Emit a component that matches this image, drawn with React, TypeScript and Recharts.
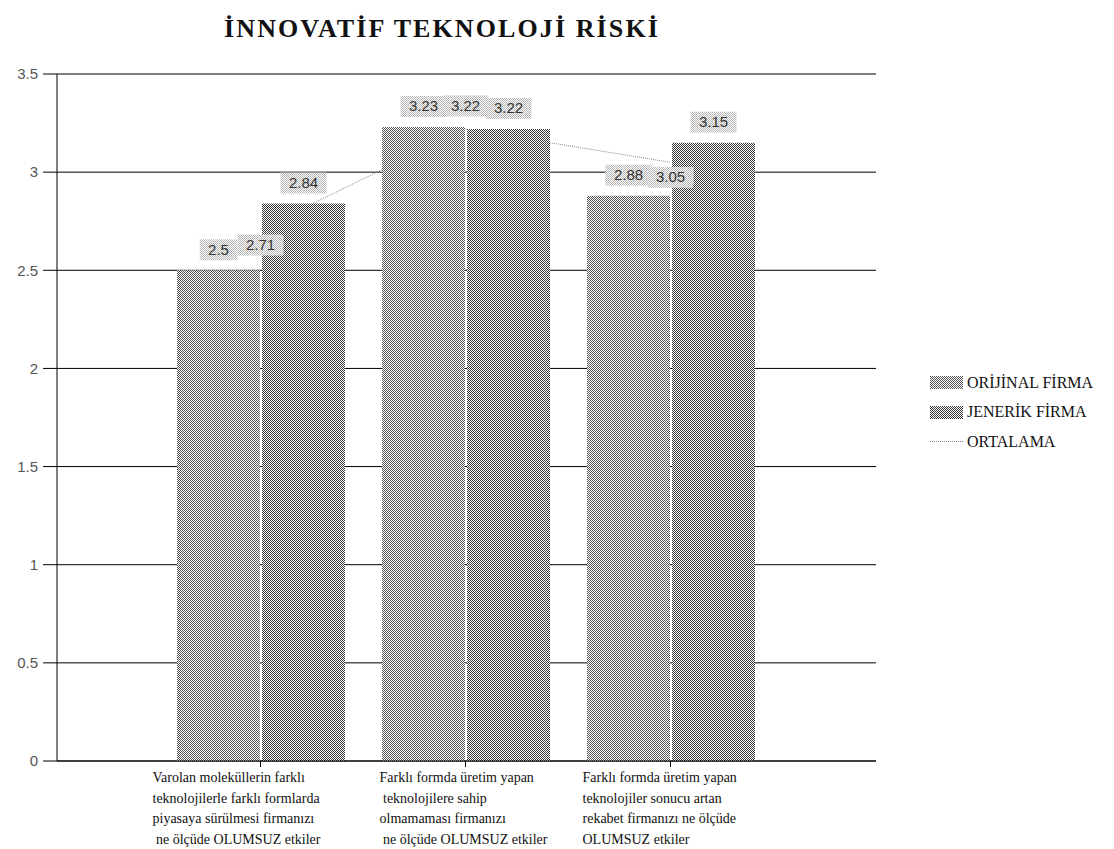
// @ts-nocheck
import React from "react";
import { ComposedChart, Bar, Line, XAxis, YAxis, CartesianGrid, LabelList, Legend } from "recharts";

const TITLE = "İNNOVATİF TEKNOLOJİ RİSKİ";

const CATEGORY_LINES = [
  ["Varolan moleküllerin farklı", "teknolojilerle farklı formlarda", "piyasaya sürülmesi firmanızı", " ne ölçüde OLUMSUZ etkiler"],
  ["Farklı formda üretim yapan", " teknolojilere sahip", "olmamaması firmanızı", " ne ölçüde OLUMSUZ etkiler"],
  ["Farklı formda üretim yapan", "teknolojiler sonucu artan", "rekabet firmanızı ne ölçüde", "OLUMSUZ etkiler"],
];
const ORIJINAL = [2.5, 3.23, 2.88];
const JENERIK = [2.84, 3.22, 3.15];
const ORTALAMA = [2.71, 3.22, 3.05];
const Y_TICKS = [0, 0.5, 1, 1.5, 2, 2.5, 3, 3.5];
const SERIES_NAMES = ["ORİJİNAL FİRMA", "JENERİK FİRMA", "ORTALAMA"];

const data = CATEGORY_LINES.map((lines, i) => ({
  name: lines.join(" ").trim(),
  orijinal: ORIJINAL[i],
  jenerik: JENERIK[i],
  ortalama: ORTALAMA[i],
}));

// style-only offsets
const TICK_DX = [-108, -86, -88];
const LINE_LABEL_DY = [16, -23, 15];

const serif = '"Liberation Serif", "Times New Roman", serif';
const sans = '"Liberation Sans", Arial, sans-serif';

const labelBox = (cx, cy, value) => {
  const txt = String(value);
  const w = txt.length * 8.5 + 12;
  return (
    <g>
      <rect x={cx - w / 2} y={cy - 10.5} width={w} height={21} fill="url(#labelDots)" />
      <text x={cx} y={cy + 5} textAnchor="middle" fontFamily={sans} fontSize={15} fill="#333">
        {txt}
      </text>
    </g>
  );
};

const BarValueLabel = (props) => {
  const { x, y, width, value } = props;
  return labelBox(x + width / 2, y - 20.5, value);
};

const LineValueLabel = (props) => {
  const { x, y, value, index } = props;
  return labelBox(x, y + LINE_LABEL_DY[index ?? 0], value);
};

const CategoryTick = (props) => {
  const { x, y, payload, index } = props;
  const i = payload?.index ?? index ?? 0;
  const lines = CATEGORY_LINES[i] || [];
  const tx = x + TICK_DX[i];
  return (
    <text x={tx} y={y + 13} fontFamily={serif} fontSize={14} fill="#111" style={{ whiteSpace: "pre" }}>
      {lines.map((l, k) => (
        <tspan key={k} x={tx} dy={k === 0 ? 0 : 20.5}>{l}</tspan>
      ))}
    </text>
  );
};

const renderLegend = () => (
  <div style={{ fontFamily: serif, fontSize: 16, color: "#111" }}>
    {SERIES_NAMES.map((n, i) => (
      <div key={n} style={{ display: "flex", alignItems: "center", height: 29.5 }}>
        <svg width={33} height={13} style={{ marginRight: 4 }}>
          {i < 2 ? (
            <rect width={33} height={13} fill={i === 0 ? "url(#dotsA)" : "url(#dotsB)"} />
          ) : (
            <line x1={0} x2={33} y1={6.5} y2={6.5} stroke="#888" strokeDasharray="1 1" />
          )}
        </svg>
        <span>{n}</span>
      </div>
    ))}
  </div>
);

export default function App() {
  return (
    <div style={{ position: "absolute", left: 0, top: 0, width: 1114, height: 849, background: "#fff" }}>
      <svg width={0} height={0} style={{ position: "absolute" }}>
        <defs>
          <pattern id="dotsA" width={2} height={2} patternUnits="userSpaceOnUse">
            <rect width={2} height={2} fill="#fff" />
            <rect width={1} height={1} fill="#555" />
            <rect x={1} y={1} width={1} height={1} fill="#555" />
          </pattern>
          <pattern id="dotsB" width={2} height={2} patternUnits="userSpaceOnUse">
            <rect width={2} height={2} fill="#fff" />
            <rect width={1} height={1} fill="#383838" />
            <rect x={1} y={1} width={1} height={1} fill="#383838" />
          </pattern>
          <pattern id="labelDots" width={2} height={2} patternUnits="userSpaceOnUse">
            <rect width={2} height={2} fill="#fff" />
            <rect width={1} height={1} fill="#b4b4b4" />
            <rect x={1} y={1} width={1} height={1} fill="#b4b4b4" />
          </pattern>
        </defs>
      </svg>

      <div
        style={{
          position: "absolute",
          left: 0,
          width: 884,
          top: 14,
          textAlign: "center",
          fontFamily: serif,
          fontWeight: 700,
          fontSize: 26,
          letterSpacing: 2.1,
          color: "#111",
        }}
      >
        {TITLE}
      </div>

      <ComposedChart
        width={1114}
        height={849}
        data={data}
        margin={{ top: 74, right: 238, bottom: 0, left: 0 }}
        barGap={2}
        barSize={83}
      >
        <CartesianGrid vertical={false} stroke="#000" strokeWidth={1} />
        <XAxis
          dataKey="name"
          height={88}
          padding={{ left: 101, right: 103 }}
          axisLine={{ stroke: "#000" }}
          tickLine={{ stroke: "#000" }}
          tickSize={6}
          tick={<CategoryTick />}
          interval={0}
        />
        <YAxis
          width={57}
          domain={[0, 3.5]}
          ticks={Y_TICKS}
          axisLine={{ stroke: "#000" }}
          tickLine={{ stroke: "#000" }}
          tickSize={14}
          tickMargin={5}
          tick={{ fontFamily: sans, fontSize: 15, fill: "#555" }}
          tickFormatter={(v) => String(v)}
        />
        <Line
          dataKey="ortalama"
          stroke="#8a8a8a"
          strokeWidth={1}
          strokeDasharray="1 1"
          dot={false}
          isAnimationActive={false}
          zIndex={250}
        />
        <Bar dataKey="orijinal" fill="url(#dotsA)" isAnimationActive={false}>
          <LabelList dataKey="orijinal" content={<BarValueLabel />} />
        </Bar>
        <Bar dataKey="jenerik" fill="url(#dotsB)" isAnimationActive={false}>
          <LabelList dataKey="jenerik" content={<BarValueLabel />} />
        </Bar>
        <Line
          dataKey="ortalama"
          stroke="none"
          dot={false}
          activeDot={false}
          legendType="none"
          isAnimationActive={false}
        >
          <LabelList dataKey="ortalama" content={<LineValueLabel />} />
        </Line>
        <Legend
          layout="vertical"
          align="center"
          verticalAlign="middle"
          content={renderLegend}
          wrapperStyle={{ left: 930, top: 368, width: 184 }}
        />
      </ComposedChart>
    </div>
  );
}
